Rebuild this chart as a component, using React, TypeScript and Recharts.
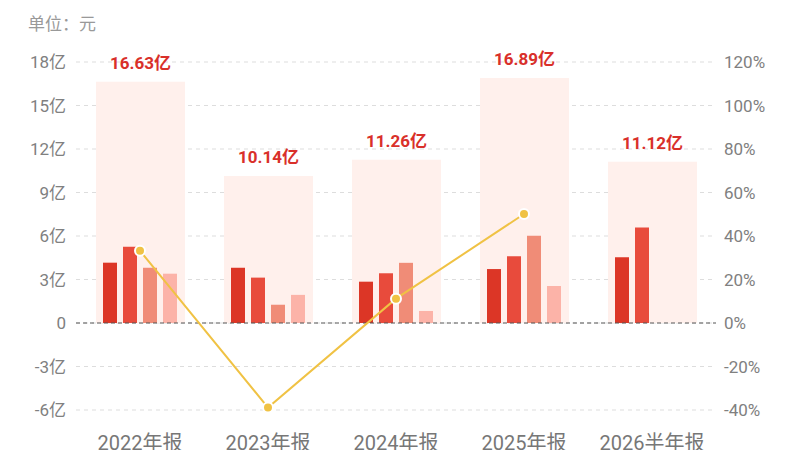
import {
  ComposedChart,
  Bar,
  Line,
  XAxis,
  YAxis,
  CartesianGrid,
  ReferenceLine,
  LabelList,
} from "recharts";

const categories = ["2022年报", "2023年报", "2024年报", "2025年报", "2026半年报"];
const totals = [16.63, 10.14, 11.26, 16.89, 11.12];
const q1 = [4.16, 3.81, 2.85, 3.72, 4.54];
const q2 = [5.26, 3.13, 3.43, 4.6, 6.58];
const q3 = [3.81, 1.26, 4.15, 6.02, null];
const q4 = [3.4, 1.94, 0.83, 2.55, null];
const growth = [33.2, -38.9, 11.2, 50.1, null];

const leftTicks = [-6, -3, 0, 3, 6, 9, 12, 15, 18];
const rightTicks = [-40, -20, 0, 20, 40, 60, 80, 100, 120];

const FONT = "Roboto, 'Noto Sans CJK SC', sans-serif";

const data = categories.map((name, i) => ({
  name,
  total: totals[i],
  q1: q1[i],
  q2: q2[i],
  q3: q3[i],
  q4: q4[i],
  growth: growth[i],
}));

const fmtLeft = (v: number) => (v === 0 ? "0" : `${v}亿`);
const fmtRight = (v: number) => `${v}%`;

export default function App() {
  return (
    <div
      style={{
        position: "absolute",
        left: 0,
        top: 0,
        width: 800,
        height: 450,
        background: "#fff",
        overflow: "hidden",
        fontFamily: FONT,
      }}
    >
      <div
        style={{
          position: "absolute",
          left: 28,
          top: 10,
          fontSize: 17,
          color: "#999",
        }}
      >
        单位：元
      </div>
      <ComposedChart
        width={800}
        height={450}
        data={data}
        margin={{ top: 62, right: 0, bottom: 0, left: 0 }}
        barGap={6}
      >
        <CartesianGrid
          yAxisId="left"
          vertical={false}
          stroke="#ddd"
          strokeDasharray="4 4"
        />
        <XAxis
          dataKey="name"
          axisLine={false}
          tickLine={false}
          tickSize={0}
          tickMargin={26}
          height={40}
          interval={0}
          tick={{ fontFamily: FONT, fontSize: 20, fill: "#777" }}
        />
        <XAxis dataKey="name" xAxisId="bg" hide />
        <YAxis
          yAxisId="left"
          domain={[-6, 18]}
          ticks={leftTicks}
          tickFormatter={fmtLeft}
          axisLine={false}
          tickLine={false}
          tickMargin={4}
          width={76}
          tick={{ fontFamily: FONT, fontSize: 17, fill: "#808080" }}
        />
        <YAxis
          yAxisId="right"
          orientation="right"
          domain={[-40, 120]}
          ticks={rightTicks}
          tickFormatter={fmtRight}
          axisLine={false}
          tickLine={false}
          tickMargin={2}
          width={84}
          tick={{ fontFamily: FONT, fontSize: 17, fill: "#808080", textAnchor: "start" }}
        />
        <Bar
          xAxisId="bg"
          yAxisId="left"
          dataKey="total"
          barSize={89}
          fill="#FFF0EC"
          isAnimationActive={false}
        >
          <LabelList
            dataKey="total"
            position="top"
            offset={13}
            formatter={(v: any) => `${Number(v).toFixed(2)}亿`}
            style={{ fontFamily: FONT, fontSize: 17, fontWeight: 700, fill: "#D9302A" }}
          />
        </Bar>
        <ReferenceLine yAxisId="left" y={0} stroke="#555" strokeDasharray="4 3" />
        <Bar yAxisId="left" dataKey="q1" barSize={14} fill="#DC3626" isAnimationActive={false} />
        <Bar yAxisId="left" dataKey="q2" barSize={14} fill="#E84B3C" isAnimationActive={false} />
        <Bar yAxisId="left" dataKey="q3" barSize={14} fill="#F08C77" isAnimationActive={false} />
        <Bar yAxisId="left" dataKey="q4" barSize={14} fill="#FCB3A8" isAnimationActive={false} />
        <Line
          yAxisId="right"
          dataKey="growth"
          stroke="#F0C244"
          strokeWidth={2}
          dot={{ r: 5, fill: "#F0C244", stroke: "#fff", strokeWidth: 2 }}
          activeDot={false}
          isAnimationActive={false}
        />
      </ComposedChart>
    </div>
  );
}
